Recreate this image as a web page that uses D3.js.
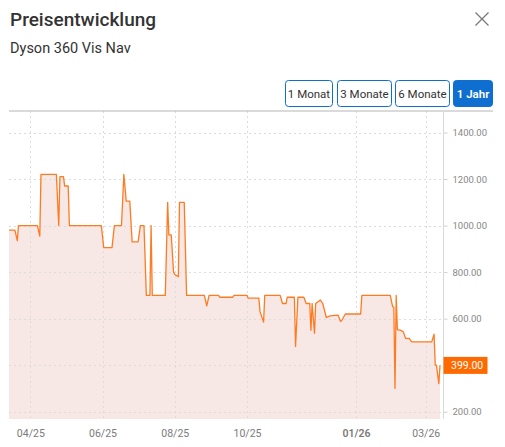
<!DOCTYPE html>
<html>
<head>
<meta charset="utf-8">
<script src="https://cdn.jsdelivr.net/npm/d3@7"></script>
<style>
  html, body { margin: 0; padding: 0; background: #fff; }
  svg { display: block; font-family: Roboto, "Noto Sans", sans-serif; }
</style>
</head>
<body>
<svg id="chart" width="505" height="447"></svg>
<script>
// ---- data ----
const dates = [
  "2025-03-14","2025-03-19","2025-03-21","2025-03-22","2025-04-07","2025-04-09","2025-04-10",
  "2025-04-23","2025-04-25","2025-04-26","2025-04-29","2025-04-30","2025-05-03","2025-05-04",
  "2025-05-31","2025-06-02","2025-06-09","2025-06-11","2025-06-17","2025-06-19","2025-06-21",
  "2025-06-24","2025-06-26","2025-07-01","2025-07-03","2025-07-06","2025-07-08","2025-07-11",
  "2025-07-12","2025-07-13","2025-07-24","2025-07-26","2025-07-27","2025-07-29","2025-07-31",
  "2025-08-01","2025-08-04","2025-08-05","2025-08-09","2025-08-11","2025-08-26","2025-08-28",
  "2025-08-30","2025-09-07","2025-09-08","2025-09-19","2025-09-20","2025-10-01","2025-10-02",
  "2025-10-11","2025-10-12","2025-10-15","2025-10-16","2025-10-29","2025-10-31","2025-11-03",
  "2025-11-04","2025-11-10","2025-11-11","2025-11-13","2025-11-18","2025-11-20","2025-11-23",
  "2025-11-24","2025-11-25","2025-11-27","2025-11-28","2025-12-02","2025-12-04","2025-12-07",
  "2025-12-10","2025-12-17","2025-12-19","2025-12-20","2025-12-23","2026-01-05","2026-01-06",
  "2026-01-30","2026-02-01","2026-02-02","2026-02-03","2026-02-04","2026-02-05","2026-02-08",
  "2026-02-10","2026-02-12","2026-02-15","2026-02-17","2026-03-06","2026-03-08","2026-03-09",
  "2026-03-10","2026-03-12","2026-03-13"
];
const prices = [
  980,980,935,1000,1000,955,1220,
  1220,1000,1210,1210,1170,1170,1000,
  1000,905,905,1000,1000,1220,1105,
  1105,930,930,1000,1000,700,700,
  1000,700,700,1100,960,960,800,
  790,780,1100,1100,700,700,655,
  700,700,692,692,700,700,688,
  688,630,585,700,700,665,665,
  692,692,480,692,692,665,665,
  550,665,537,665,680,665,605,
  612,615,588,592,620,620,700,
  700,652,650,300,700,553,550,
  543,515,515,500,500,533,400,
  400,321,399
];
const yTicks = [200, 400, 600, 800, 1000, 1200, 1400];
const xTickDates = ["2025-04-01","2025-06-01","2025-08-01","2025-10-01","2026-01-01","2026-03-01"];
const xTickLabels = ["04/25","06/25","08/25","10/25","01/26","03/26"];
const ranges = ["1 Monat","3 Monate","6 Monate","1 Jahr"];
const activeRange = "1 Jahr";
const title = "Preisentwicklung";
const subtitle = "Dyson 360 Vis Nav";
const currentPrice = 399;

// ---- build ----
const parse = d3.utcParse("%Y-%m-%d");
const data = dates.map((d, i) => ({ date: parse(d), price: prices[i] }));

const svg = d3.select("#chart");
const plot = { left: 9, right: 440, top: 111, bottom: 419, axisX: 443 };

// header
svg.append("text").attr("x", 10).attr("y", 26)
  .attr("font-size", 19).attr("font-weight", 500).attr("fill", "#333")
  .text(title);
svg.append("text").attr("x", 10).attr("y", 53)
  .attr("font-size", 14.5).attr("fill", "#333")
  .text(subtitle);
// close icon
const cx = 482, cy = 19, cs = 6.5;
svg.append("path")
  .attr("d", `M${cx-cs},${cy-cs}L${cx+cs},${cy+cs}M${cx+cs},${cy-cs}L${cx-cs},${cy+cs}`)
  .attr("stroke", "#777").attr("stroke-width", 1.2).attr("fill", "none");

// range buttons
const btnX = [285.5, 337.5, 395.5, 453.5];
const btnW = [47, 54, 54, 39];
const btnG = svg.append("g");
ranges.forEach((r, i) => {
  const active = r === activeRange;
  btnG.append("rect").attr("x", btnX[i]).attr("y", 80.5).attr("width", btnW[i]).attr("height", 26)
    .attr("rx", 3).attr("fill", active ? "#0f6fd0" : "#fff")
    .attr("stroke", "#0f6fd0").attr("stroke-width", 1);
  btnG.append("text").attr("x", btnX[i] + btnW[i] / 2).attr("y", 97.5)
    .attr("text-anchor", "middle").attr("font-size", 11.5)
    .attr("font-weight", active ? 600 : 400)
    .attr("fill", active ? "#fff" : "#333").text(r);
});

// scales
const x = d3.scaleUtc().domain(d3.extent(data, d => d.date)).range([plot.left, plot.right]);
const y = d3.scaleLinear().domain([200, 1400]).range([411.7, 132.5]);

// fill area
svg.append("path").datum(data)
  .attr("fill", "#f7e8e6")
  .attr("d", d3.area().x(d => x(d.date)).y0(plot.bottom).y1(d => y(d.price)));

// grid
const grid = svg.append("g").attr("stroke", "#dcdcdc").attr("stroke-dasharray", "2,3").attr("stroke-width", 1);
yTicks.forEach(v => {
  grid.append("line").attr("x1", plot.left).attr("x2", plot.axisX)
    .attr("y1", Math.round(y(v)) + 0.5).attr("y2", Math.round(y(v)) + 0.5);
});
xTickDates.forEach(d => {
  const xx = Math.round(x(parse(d))) + 0.5;
  grid.append("line").attr("x1", xx).attr("x2", xx).attr("y1", plot.top).attr("y2", plot.bottom);
});

// line
svg.append("path").datum(data)
  .attr("fill", "none").attr("stroke", "#ff7b22").attr("stroke-width", 1.3)
  .attr("stroke-linejoin", "round")
  .attr("d", d3.line().x(d => x(d.date)).y(d => y(d.price)));

// top border
svg.append("line").attr("x1", plot.left).attr("x2", 493).attr("y1", plot.top).attr("y2", plot.top)
  .attr("stroke", "#b5b5b5").attr("stroke-width", 1.2);

// right y axis (the 400 label is hidden behind the current-price badge)
const yAxis = d3.axisRight(y).tickValues(yTicks).tickSize(4).tickPadding(5)
  .tickFormat(d => Math.abs(d - currentPrice) < 20 ? "" : d3.format(".2f")(d));
const ya = svg.append("g").attr("transform", `translate(${plot.axisX + 0.5},0)`).call(yAxis);
ya.select(".domain").remove();
ya.append("line").attr("x1", 0).attr("x2", 0).attr("y1", plot.top).attr("y2", plot.bottom)
  .attr("stroke", "#d8d8d8");
ya.selectAll(".tick line").attr("stroke", "#d0d0d0");
ya.selectAll(".tick text").attr("fill", "#888").attr("font-size", 9.5)
  .attr("font-family", "Roboto, sans-serif");

// current price label
const cpY = y(currentPrice);
svg.append("rect").attr("x", plot.axisX + 0.5).attr("y", cpY - 8.5).attr("width", 44).attr("height", 17)
  .attr("fill", "#ff6a00");
svg.append("text").attr("x", plot.axisX + 8).attr("y", cpY + 3.8)
  .attr("font-size", 10.5).attr("fill", "#fff").text(d3.format(".2f")(currentPrice));

// x axis labels
const xAxis = d3.axisBottom(x).tickValues(xTickDates.map(parse)).tickSize(0).tickPadding(0)
  .tickFormat((d, i) => xTickLabels[i]);
const xa = svg.append("g").attr("transform", `translate(0,${plot.bottom})`).call(xAxis);
xa.select(".domain").remove();
xa.selectAll(".tick text").attr("dy", null).attr("y", 18)
  .attr("fill", "#7a7a7a").attr("font-size", 10.5)
  .attr("font-family", "Roboto, sans-serif")
  .attr("font-weight", (d, i) => xTickLabels[i] === "01/26" ? 600 : 400);
</script>
</body>
</html>
